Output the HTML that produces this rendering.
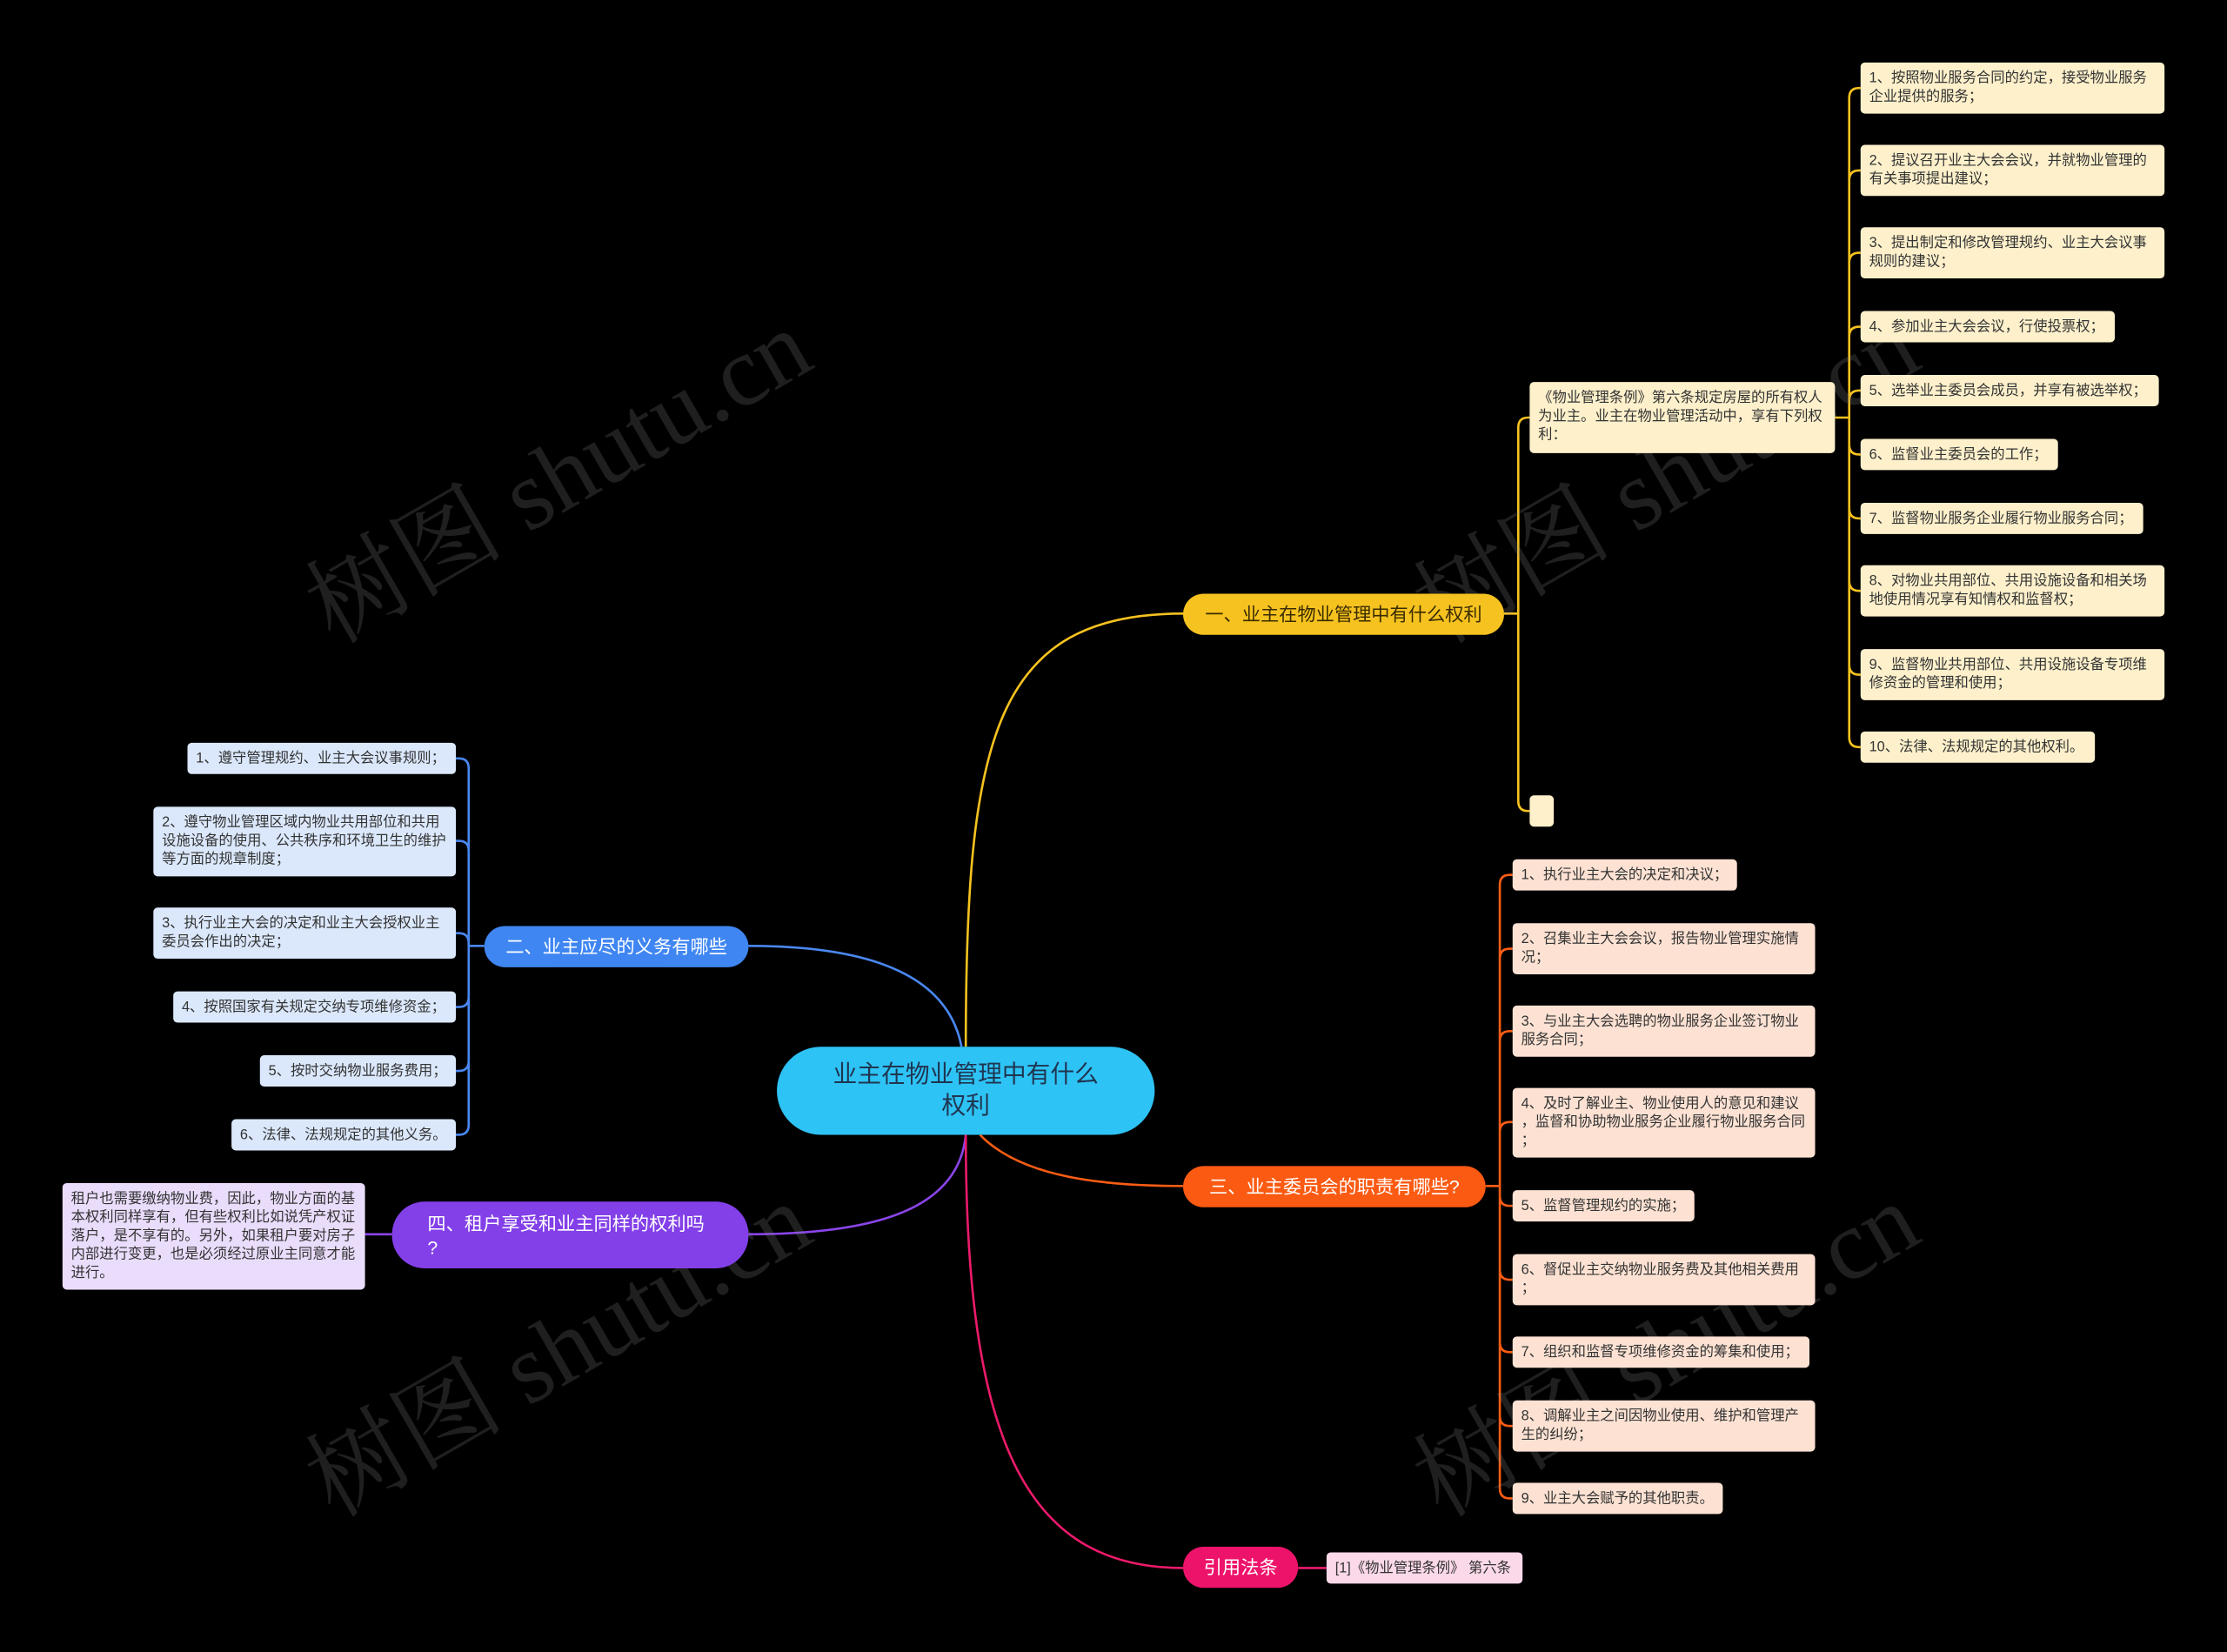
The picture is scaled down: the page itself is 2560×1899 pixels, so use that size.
<!DOCTYPE html>
<html><head><meta charset="utf-8">
<style>
html,body{margin:0;padding:0;background:#000;}
body{width:2560px;height:1898px;overflow:hidden;position:relative;}
#s{position:absolute;left:0;top:0;width:1568px;height:1163px;transform:scale(1.632653);transform-origin:0 0;font-family:"Liberation Sans","Noto Sans CJK SC",sans-serif;}
.n{position:absolute;box-sizing:border-box;font-size:10px;line-height:13px;color:#333;padding:5px 6px 3px;border-radius:3px;white-space:nowrap;}
.y{background:#fdf0cb;}
.b{background:#dbe8fc;}
.o{background:#fde2d3;}
.p{background:#eadcfb;}
.k{background:#fbd9e9;}
.br{position:absolute;box-sizing:border-box;font-size:13px;line-height:29px;border-radius:15px;text-align:center;white-space:nowrap;}
.wm{position:absolute;font-family:"Liberation Serif","Noto Serif CJK SC",serif;font-size:70px;color:rgba(140,140,140,0.22);transform:rotate(-30deg);transform-origin:0 0;white-space:nowrap;}
svg{position:absolute;left:0;top:0;}
</style></head><body><div id="s">
<svg width="1568" height="1163" fill="none" stroke-width="1.6">
<path d="M680 737 C680 520 700 432 833 432" stroke="#f6c21f"/>
<path d="M527 666 C620 666 668 690 677 737" stroke="#4a88f0"/>
<path d="M527 869 C620 869 675 850 680 799" stroke="#8a45ea"/>
<path d="M690 799 C720 830 780 835 833 835" stroke="#fb5d14"/>
<path d="M680 799 C680 1010 720 1104 833 1104" stroke="#ec1a6b"/>
<path d="M276 869 H257" stroke="#8a45ea"/>
<path d="M914 1104 H934" stroke="#ec1a6b"/>
<g stroke="#f6c21f" id="gy"></g>
<g stroke="#4a88f0" id="gb"></g>
<g stroke="#fb5d14" id="go"></g>
</svg>
<script>
function tree(id,px,py,tx,cx,ys){var g=document.getElementById(id),d='M'+px+' '+py+' H'+tx;var s=cx>tx?1:-1;ys.forEach(function(cy){var dy=cy-py;var sg=dy>0?1:-1;if(Math.abs(dy)<8){d+=' M'+tx+' '+py+' L'+cx+' '+cy;}else{d+=' M'+tx+' '+py+' L'+tx+' '+(cy-sg*7)+' Q'+tx+' '+cy+' '+(tx+s*7)+' '+cy+' L'+cx+' '+cy;}});var p=document.createElementNS('http://www.w3.org/2000/svg','path');p.setAttribute('d',d);g.appendChild(p);}
tree('gy',1059,432,1069,1077,[294,571]);
tree('gy',1292,294,1302,1310,[62,120,178,230,275,320,365,416,475,526]);
tree('gb',341,666,330,321,[534,592,657,709,754,799]);
tree('go',1046,835,1056,1065,[616,668,726,790,849,901,952,1004,1055]);
</script>

<div class="wm" style="left:195px;top:385px;">树图 shutu.cn</div>
<div class="wm" style="left:975px;top:385px;">树图 shutu.cn</div>
<div class="wm" style="left:195px;top:1000px;">树图 shutu.cn</div>
<div class="wm" style="left:975px;top:1000px;">树图 shutu.cn</div>

<div class="br" style="left:547px;top:737px;width:266px;height:62px;border-radius:31px;background:#2ec3f5;color:#1f3550;font-size:17px;line-height:22px;padding-top:9px;">业主在物业管理中有什么<br>权利</div>

<div class="br" style="left:833px;top:418px;width:226px;height:29px;background:#f6c21f;color:#3a2c00;">一、业主在物业管理中有什么权利</div>
<div class="br" style="left:341px;top:652px;width:186px;height:29px;background:#3f86f2;color:#fff;">二、业主应尽的义务有哪些</div>
<div class="br" style="left:833px;top:821px;width:213px;height:29px;background:#fb5a12;color:#fff;">三、业主委员会的职责有哪些?</div>
<div class="br" style="left:276px;top:846px;width:251px;height:47px;border-radius:23px;background:#8340e8;color:#fff;text-align:left;line-height:17px;padding:7px 0 0 25px;">四、租户享受和业主同样的权利吗<br>?</div>
<div class="br" style="left:833px;top:1089px;width:81px;height:29px;background:#ee136a;color:#fff;">引用法条</div>

<div class="n y" style="left:1077px;top:269px;width:215px;height:50px;">《物业管理条例》第六条规定房屋的所有权人<br>为业主。业主在物业管理活动中，享有下列权<br>利：</div>
<div class="n y" style="left:1077px;top:560px;width:17px;height:22px;"></div>

<div class="n y" style="left:1310px;top:44px;width:214px;height:36px;">1、按照物业服务合同的约定，接受物业服务<br>企业提供的服务；</div>
<div class="n y" style="left:1310px;top:102px;width:214px;height:36px;">2、提议召开业主大会会议，并就物业管理的<br>有关事项提出建议；</div>
<div class="n y" style="left:1310px;top:160px;width:214px;height:36px;">3、提出制定和修改管理规约、业主大会议事<br>规则的建议；</div>
<div class="n y" style="left:1310px;top:219px;width:179px;height:22px;">4、参加业主大会会议，行使投票权；</div>
<div class="n y" style="left:1310px;top:264px;width:210px;height:22px;">5、选举业主委员会成员，并享有被选举权；</div>
<div class="n y" style="left:1310px;top:309px;width:139px;height:22px;">6、监督业主委员会的工作；</div>
<div class="n y" style="left:1310px;top:354px;width:199px;height:22px;">7、监督物业服务企业履行物业服务合同；</div>
<div class="n y" style="left:1310px;top:398px;width:214px;height:36px;">8、对物业共用部位、共用设施设备和相关场<br>地使用情况享有知情权和监督权；</div>
<div class="n y" style="left:1310px;top:457px;width:214px;height:36px;">9、监督物业共用部位、共用设施设备专项维<br>修资金的管理和使用；</div>
<div class="n y" style="left:1310px;top:515px;width:165px;height:22px;">10、法律、法规规定的其他权利。</div>

<div class="n b" style="left:132px;top:523px;width:189px;height:22px;">1、遵守管理规约、业主大会议事规则；</div>
<div class="n b" style="left:108px;top:568px;width:213px;height:49px;">2、遵守物业管理区域内物业共用部位和共用<br>设施设备的使用、公共秩序和环境卫生的维护<br>等方面的规章制度；</div>
<div class="n b" style="left:108px;top:639px;width:213px;height:36px;">3、执行业主大会的决定和业主大会授权业主<br>委员会作出的决定；</div>
<div class="n b" style="left:122px;top:698px;width:199px;height:22px;">4、按照国家有关规定交纳专项维修资金；</div>
<div class="n b" style="left:183px;top:743px;width:138px;height:22px;">5、按时交纳物业服务费用；</div>
<div class="n b" style="left:163px;top:788px;width:158px;height:22px;">6、法律、法规规定的其他义务。</div>

<div class="n o" style="left:1065px;top:605px;width:158px;height:22px;">1、执行业主大会的决定和决议；</div>
<div class="n o" style="left:1065px;top:650px;width:213px;height:36px;">2、召集业主大会会议，报告物业管理实施情<br>况；</div>
<div class="n o" style="left:1065px;top:708px;width:213px;height:36px;">3、与业主大会选聘的物业服务企业签订物业<br>服务合同；</div>
<div class="n o" style="left:1065px;top:766px;width:213px;height:49px;">4、及时了解业主、物业使用人的意见和建议<br>，监督和协助物业服务企业履行物业服务合同<br>；</div>
<div class="n o" style="left:1065px;top:838px;width:128px;height:22px;">5、监督管理规约的实施；</div>
<div class="n o" style="left:1065px;top:883px;width:213px;height:36px;">6、督促业主交纳物业服务费及其他相关费用<br>；</div>
<div class="n o" style="left:1065px;top:941px;width:209px;height:22px;">7、组织和监督专项维修资金的筹集和使用；</div>
<div class="n o" style="left:1065px;top:986px;width:213px;height:36px;">8、调解业主之间因物业使用、维护和管理产<br>生的纠纷；</div>
<div class="n o" style="left:1065px;top:1044px;width:148px;height:22px;">9、业主大会赋予的其他职责。</div>

<div class="n p" style="left:44px;top:833px;width:213px;height:75px;">租户也需要缴纳物业费，因此，物业方面的基<br>本权利同样享有，但有些权利比如说凭产权证<br>落户，是不享有的。另外，如果租户要对房子<br>内部进行变更，也是必须经过原业主同意才能<br>进行。</div>
<div class="n k" style="left:934px;top:1093px;width:138px;height:22px;">[1]《物业管理条例》 第六条</div>
</div></body></html>
